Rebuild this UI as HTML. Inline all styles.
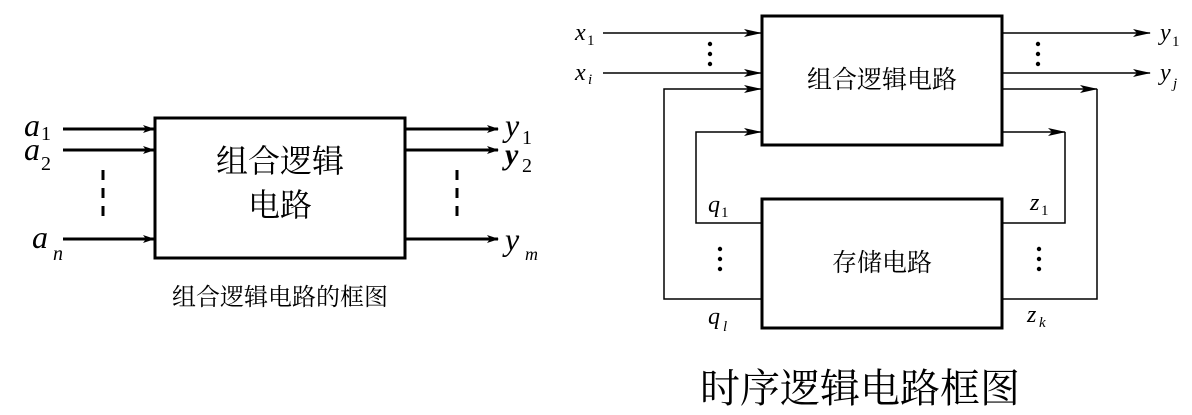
<!DOCTYPE html>
<html><head><meta charset="utf-8"><style>
body{margin:0;background:#fff}
svg{display:block}
</style></head><body>
<svg width="1192" height="415" viewBox="0 0 1192 415" xmlns="http://www.w3.org/2000/svg">
<defs>
<marker id="a" markerWidth="12" markerHeight="8" refX="11" refY="4" orient="auto" markerUnits="userSpaceOnUse"><path d="M0,0 L12,4 L0,8 L3,4 Z" fill="#000"/></marker>
<marker id="b" markerWidth="18" markerHeight="8" refX="17" refY="4" orient="auto" markerUnits="userSpaceOnUse"><path d="M0,0 L18,4 L0,8 L4,4 Z" fill="#000"/></marker>
</defs>
<rect x="155" y="118" width="250" height="140" fill="none" stroke="#000" stroke-width="3"/>
<g stroke="#000" stroke-width="3" fill="none">
<line x1="63" y1="129" x2="154" y2="129" marker-end="url(#a)"/>
<line x1="63" y1="150" x2="154" y2="150" marker-end="url(#a)"/>
<line x1="63" y1="239" x2="154" y2="239" marker-end="url(#a)"/>
<line x1="406" y1="129" x2="498" y2="129" marker-end="url(#a)"/>
<line x1="406" y1="150" x2="498" y2="150" marker-end="url(#a)"/>
<line x1="406" y1="239" x2="498" y2="239" marker-end="url(#a)"/>
<line x1="103" y1="170" x2="103" y2="220" stroke-dasharray="10,8"/>
<line x1="457" y1="170" x2="457" y2="220" stroke-dasharray="10,8"/>
</g>
<g font-family="Noto Serif CJK SC, serif" text-anchor="middle" fill="#000">
<text x="280" y="172" font-size="32">组合逻辑</text>
<text x="280" y="216" font-size="32">电路</text>
<text x="280" y="305" font-size="24">组合逻辑电路的框图</text>
<text x="882" y="88" font-size="25">组合逻辑电路</text>
<text x="882" y="271" font-size="25">存储电路</text>
<text x="860" y="402" font-size="40">时序逻辑电路框图</text>
</g>
<g font-family="Liberation Serif, serif" font-style="italic" fill="#000">
<text x="24" y="136" font-size="32">a</text>
<text x="24" y="160" font-size="32">a</text>
<text x="32" y="248" font-size="32">a</text><text x="53" y="260" font-size="20">n</text>
<text x="505" y="136" font-size="32">y</text>
<text x="505" y="164" font-size="30" font-weight="bold">y</text>
<text x="505" y="250" font-size="32">y</text><text x="525" y="260" font-size="18">m</text>
<text x="575" y="40" font-size="24">x</text>
<text x="575" y="80" font-size="24">x</text><text x="588" y="84" font-size="15">i</text>
<text x="1160" y="40" font-size="24">y</text>
<text x="1160" y="80" font-size="24">y</text><text x="1173" y="88" font-size="15">j</text>
<text x="708" y="212" font-size="24">q</text>
<text x="708" y="324" font-size="24">q</text><text x="723" y="331" font-size="15">l</text>
<text x="1030" y="210" font-size="24">z</text>
<text x="1027" y="322" font-size="24">z</text><text x="1039" y="327" font-size="15">k</text>
</g>
<g font-family="Liberation Serif, serif" fill="#000">
<text x="41" y="140" font-size="20">1</text>
<text x="41" y="170" font-size="20">2</text>
<text x="522" y="144" font-size="20">1</text>
<text x="522" y="172" font-size="20">2</text>
<text x="587" y="45" font-size="15">1</text>
<text x="1172" y="46" font-size="15">1</text>
<text x="721" y="217" font-size="15">1</text>
<text x="1041" y="215" font-size="15">1</text>
</g>
<g stroke="#000" stroke-width="1.5" fill="none">
<line x1="603" y1="33" x2="761" y2="33" marker-end="url(#b)"/>
<line x1="603" y1="73" x2="761" y2="73" marker-end="url(#b)"/>
<polyline points="762,299 664,299 664,89 761,89" marker-end="url(#b)"/>
<polyline points="762,223 696,223 696,132 761,132" marker-end="url(#b)"/>
<line x1="1003" y1="33" x2="1150" y2="33" marker-end="url(#b)"/>
<line x1="1003" y1="73" x2="1150" y2="73" marker-end="url(#b)"/>
<line x1="1003" y1="89" x2="1097" y2="89" marker-end="url(#b)"/>
<polyline points="1097,89 1097,299 1003,299"/>
<line x1="1003" y1="132" x2="1065" y2="132" marker-end="url(#b)"/>
<polyline points="1065,132 1065,223 1003,223"/>
</g>
<rect x="762" y="16" width="240" height="129" fill="none" stroke="#000" stroke-width="3"/>
<rect x="762" y="199" width="240" height="129" fill="none" stroke="#000" stroke-width="3"/>
<g fill="#000">
<circle cx="710" cy="44" r="2.2"/><circle cx="710" cy="54" r="2.2"/><circle cx="710" cy="64" r="2.2"/>
<circle cx="1038" cy="44" r="2.2"/><circle cx="1038" cy="54" r="2.2"/><circle cx="1038" cy="64" r="2.2"/>
<circle cx="720" cy="249" r="2.2"/><circle cx="720" cy="259" r="2.2"/><circle cx="720" cy="269" r="2.2"/>
<circle cx="1039" cy="249" r="2.2"/><circle cx="1039" cy="259" r="2.2"/><circle cx="1039" cy="269" r="2.2"/>
</g>
</svg>
</body></html>
